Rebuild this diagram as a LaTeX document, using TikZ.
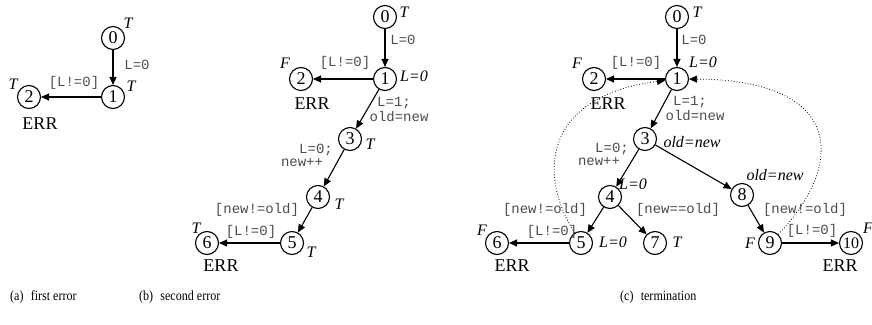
\documentclass[tikz,border=0pt]{standalone}
\usepackage{fontspec}
\setmainfont{Liberation Serif}
\setmonofont{Liberation Mono}
\usetikzlibrary{arrows.meta}

\begin{document}
\begin{tikzpicture}[x=1pt,y=-1pt,
  st/.style={circle,draw,line width=1.1pt,minimum size=23pt,inner sep=0pt,
    font=\fontsize{18}{18}\selectfont},
  tr/.style={-{Triangle[length=8pt,width=7pt]},line width=1.1pt},
  back/.style={-{Triangle[length=8pt,width=7pt]},line width=0.8pt,dotted},
  cond/.style={font=\ttfamily\fontsize{14}{14}\selectfont,text=black!70,inner sep=0pt,
    text height=8.5pt,text depth=1.5pt},
  ann/.style={font=\fontsize{16}{16}\selectfont\itshape,inner sep=0pt},
  err/.style={font=\fontsize{18}{18}\selectfont,inner sep=0pt},
  captxt/.style={font=\fontsize{14}{14}\selectfont,inner sep=0pt,anchor=west},
]
\useasboundingbox (0,0) rectangle (872,324);

% ---------------- (a) first error ----------------
\node[st] (a0) at (113,38) {0};
\node[st] (a1) at (113,97) {1};
\node[st] (a2) at (29,97) {2};
\draw[tr] (a0) -- (a1);
\draw[tr] (a1) -- (a2);
\node[cond] (a01) at (137,66) {L=0};
\node[cond] (a12) at (74,83) {[L!=0]};
\node[ann] (aT0) at (128,23) {T};
\node[ann] (aT1) at (131,86) {T};
\node[ann] (aT2) at (13,84) {T};
\node[err] (aE2) at (40,124) {ERR};
\node[captxt] (capa) at (10,297) {\scalebox{0.86}[1]{(a)\hspace{0.6em}first error}};

% ---------------- (b) second error ----------------
\node[st] (b0) at (385,17) {0};
\node[st] (b1) at (385,79) {1};
\node[st] (b2) at (301,79) {2};
\node[st] (b3) at (350,139) {3};
\node[st] (b4) at (318,197) {4};
\node[st] (b5) at (292,243) {5};
\node[st] (b6) at (207,243) {6};
\draw[tr] (b0) -- (b1);
\draw[tr] (b1) -- (b2);
\draw[tr] (b1) -- (b3);
\draw[tr] (b3) -- (b4);
\draw[tr] (b4) -- (b5);
\draw[tr] (b5) -- (b6);
\node[ann] (bT0) at (404,12) {T};
\node[cond] (b01) at (403,41) {L=0};
\node[ann] (bL1) at (414,76) {L=0};
\node[ann] (bF2) at (285,63) {F};
\node[cond] (b12) at (345,63) {[L!=0]};
\node[err] (bE2) at (312,104) {ERR};
\node[cond] (b13a) at (394,103) {L=1;};
\node[cond] (b13b) at (399,118) {old=new};
\node[ann] (bT3) at (370,144) {T};
\node[cond] (b34a) at (316,150) {L=0;};
\node[cond] (b34b) at (302,163) {new++};
\node[ann] (bT4) at (339,204) {T};
\node[cond] (b45) at (257,210) {[new!=old]};
\node[ann] (bT5) at (311,252) {T};
\node[cond] (b56) at (251,232) {[L!=0]};
\node[ann] (bT6) at (196,228) {T};
\node[err] (bE6) at (221,266) {ERR};
\node[captxt] (capb) at (139,297) {\scalebox{0.86}[1]{(b)\hspace{0.6em}second error}};

% ---------------- (c) termination ----------------
\node[st] (c0) at (677,17) {0};
\node[st] (c1) at (677,79) {1};
\node[st] (c2) at (594,79) {2};
\node[st] (c3) at (645,139) {3};
\node[st] (c4) at (610,197) {4};
\node[st] (c5) at (581,243) {5};
\node[st] (c6) at (497,243) {6};
\node[st] (c7) at (655,243) {7};
\node[st] (c8) at (742,195) {8};
\node[st] (c9) at (770,243) {9};
\node[st,font=\fontsize{16}{16}\selectfont] (c10) at (851,243) {10};
\draw[tr] (c0) -- (c1);
\draw[tr] (c1) -- (c2);
\draw[tr] (c1) -- (c3);
\draw[tr] (c3) -- (c4);
\draw[tr] (c3) -- (c8);
\draw[tr] (c4) -- (c5);
\draw[tr] (c4) -- (c7);
\draw[tr] (c8) -- (c9);
\draw[tr] (c5) -- (c6);
\draw[tr] (c9) -- (c10);
% back edges closing the loop
\draw[back] (c5) .. controls (535,170) and (548,95) .. (c1);
\draw[back] (c9) .. controls (845,165) and (845,80) .. (c1);
\node[ann] (cT0) at (697,12) {T};
\node[cond] (c01) at (694,41) {L=0};
\node[ann] (cL1) at (703,62) {L=0};
\node[ann] (cF2) at (577,63) {F};
\node[cond] (c12) at (636,63) {[L!=0]};
\node[err] (cE2) at (608,104) {ERR};
\node[cond] (c13a) at (690,102) {L=1;};
\node[cond] (c13b) at (695,117) {old=new};
\node[ann] (cO3) at (692,142) {old=new};
\node[cond] (c34a) at (612,149) {L=0;};
\node[cond] (c34b) at (599,162) {new++};
\node[ann] (cL4) at (633,184) {L=0};
\node[cond] (c45) at (545,210) {[new!=old]};
\node[cond] (c47) at (678,210) {[new==old]};
\node[ann] (cL5) at (613,242) {L=0};
\node[ann] (cT7) at (677,242) {T};
\node[cond] (c56) at (552,232) {[L!=0]};
\node[ann] (cF6) at (482,230) {F};
\node[err] (cE6) at (512,266) {ERR};
\node[ann] (cO8) at (775,175) {old=new};
\node[cond] (c89) at (805,210) {[new!=old]};
\node[ann] (cF9) at (750,243) {F};
\node[cond] (c910) at (812,231) {[L!=0]};
\node[ann] (cF10) at (868,228) {F};
\node[err] (cE10) at (840,266) {ERR};
\node[captxt] (capc) at (620,297) {\scalebox{0.86}[1]{(c)\hspace{0.6em}termination}};
\end{tikzpicture}
\end{document}
